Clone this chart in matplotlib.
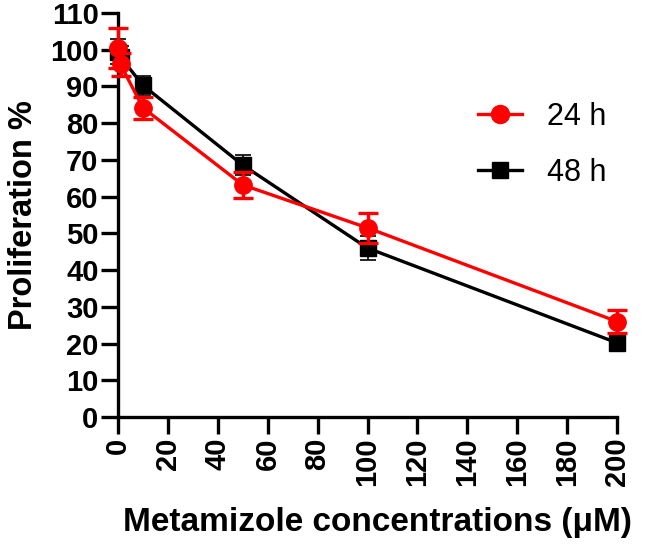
import numpy as np
import matplotlib
matplotlib.use("Agg")
import matplotlib.pyplot as plt
from matplotlib.lines import Line2D

plt.rcParams['font.family'] = ['Liberation Sans', 'DejaVu Sans']

conc = [0, 1, 10, 50, 100, 200]
prolif_24h = [100.5, 96, 84.2, 63.2, 51.5, 26]
err_24h = [5.5, 3.2, 3.0, 3.5, 4.0, 3.2]
prolif_48h = [99.5, 98, 90.3, 68.6, 46, 20.2]
err_48h = [3.5, 3.0, 2.5, 2.8, 3.2, 1.2]
labels = ['24 h', '48 h']

fig = plt.figure(figsize=(6.46, 5.49), dpi=100)
ax = fig.add_axes([0.1827, 0.2404, 0.7724, 0.7359])

ax.errorbar(conc, prolif_48h, yerr=err_48h, color='black', marker='s', markersize=11,
            linewidth=2.4, elinewidth=1.2, capsize=6, capthick=1.2,
            clip_on=False, zorder=3)
ax.errorbar(conc, prolif_24h, yerr=err_24h, color='#ff0000', marker='o', markersize=12.5,
            linewidth=2.4, elinewidth=2.4, capsize=7, capthick=2.4,
            clip_on=False, zorder=4)

ax.set_xlim(0, 200)
ax.set_ylim(0, 110)
ax.set_xticks(np.arange(0, 201, 20))
ax.set_yticks(np.arange(0, 111, 10))
ax.tick_params(axis='both', direction='out', length=12, width=2.4, labelsize=21, pad=2)
ax.tick_params(axis='x', pad=3)
for lab in ax.get_xticklabels():
    lab.set_rotation(90)
    lab.set_fontweight('bold')
for lab in ax.get_yticklabels():
    lab.set_fontweight('bold')

for side in ['top', 'right']:
    ax.spines[side].set_visible(False)
for side in ['left', 'bottom']:
    ax.spines[side].set_linewidth(2.4)

ax.set_ylabel('Proliferation %', fontsize=23.5, fontweight='bold', labelpad=8)
ax.set_xlabel('Metamizole concentrations (\u03bcM)', fontsize=24, fontweight='bold',
              labelpad=15, x=0.52)

# legend shows line + marker only, no error bars
handles = [Line2D([], [], color='#ff0000', marker='o', markersize=13, linewidth=2.4),
           Line2D([], [], color='black', marker='s', markersize=11, linewidth=2.4)]
ax.legend(handles, labels, loc='upper left', bbox_to_anchor=(0.74, 0.814),
          bbox_transform=fig.transFigure, frameon=False, fontsize=22,
          handlelength=1.45, labelspacing=0.85, handletextpad=0.8,
          borderpad=0, borderaxespad=0)

fig.savefig('out.png', dpi=100)
